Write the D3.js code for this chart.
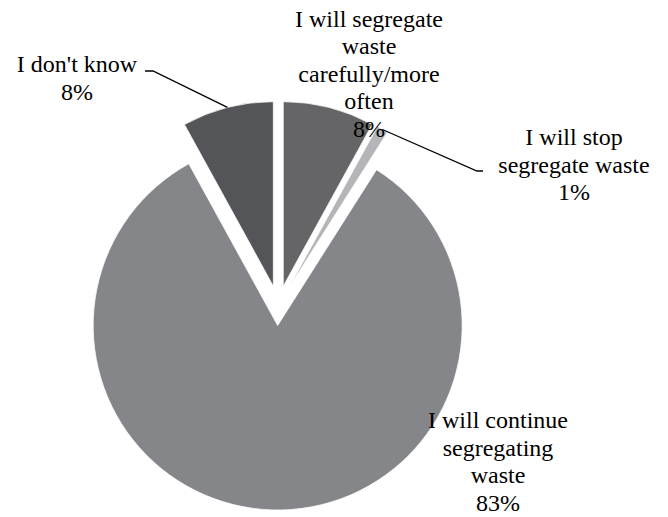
<!DOCTYPE html>
<html>
<head>
<meta charset="utf-8">
<script src="https://cdn.jsdelivr.net/npm/d3@7/dist/d3.min.js"></script>
<style>
  html, body { margin: 0; padding: 0; background: #fff; }
  svg { display: block; }
</style>
</head>
<body>
<div id="chart"></div>
<script>
// Survey answers, clockwise from 12 o'clock
const categories = [
  "I will segregate waste carefully/more often",
  "I will stop segregate waste",
  "I will continue segregating waste",
  "I don't know"
];
const values = [8, 1, 83, 8];
const labelLines = [
  ["I will segregate", "waste", "carefully/more", "often"],
  ["I will stop", "segregate waste"],
  ["I will continue", "segregating", "waste"],
  ["I don't know"]
];
const sliceColors = ["#656568", "#b4b5b8", "#85868a", "#545558"];

// Layout
const width = 668, height = 517;
const cx = 278.3, cy = 305.5, radius = 184.5, explode = 20;
const lineH = 27.6;
const fontFamily = "Liberation Serif";
// label anchor: centre x and first baseline y; leader: elbow points
const labelPos = [
  { x: 369, y: 26.5, leader: null },
  { x: 574, y: 145, leader: [[483, 171], [477, 171]] },
  { x: 498, y: 428, leader: null },
  { x: 77, y: 72, leader: [[145, 71], [153, 71]] }
];

const svg = d3.select("#chart").append("svg")
  .attr("width", width).attr("height", height);

const pie = d3.pie().sort(null).startAngle(0).endAngle(2 * Math.PI).value(d => d);
const arcs = pie(values);
const arc = d3.arc().innerRadius(0).outerRadius(radius);

const g = svg.append("g").attr("transform", `translate(${cx},${cy})`);

function offset(d) {
  const a = (d.startAngle + d.endAngle) / 2;
  return [Math.sin(a) * explode, -Math.cos(a) * explode];
}

g.selectAll("path.slice")
  .data(arcs)
  .join("path")
  .attr("class", "slice")
  .attr("d", arc)
  .attr("fill", (d, i) => sliceColors[i])
  .attr("stroke", "#fff")
  .attr("stroke-width", 0.75)
  .attr("transform", d => { const o = offset(d); return `translate(${o[0]},${o[1]})`; });

// Leader lines from the slice's outer edge to the label
const line = d3.line();
arcs.forEach((d, i) => {
  const lp = labelPos[i];
  if (!lp.leader) return;
  const a = (d.startAngle + d.endAngle) / 2;
  const o = offset(d);
  const edge = [cx + o[0] + Math.sin(a) * radius, cy + o[1] - Math.cos(a) * radius];
  const pts = [edge, lp.leader[1], lp.leader[0]];
  svg.append("path")
    .attr("d", line(pts))
    .attr("fill", "none")
    .attr("stroke", "#000")
    .attr("stroke-width", 1.3);
});

// Labels with percentages
const fmt = v => Math.round(v) + "%";
arcs.forEach((d, i) => {
  const lp = labelPos[i];
  const lines = labelLines[i].concat([fmt(values[i])]);
  const t = svg.append("text")
    .attr("text-anchor", "middle")
    .attr("font-family", fontFamily)
    .attr("font-size", 24)
    .attr("fill", "#000");
  lines.forEach((s, k) => {
    t.append("tspan").attr("x", lp.x).attr("y", lp.y + k * lineH).text(s);
  });
});
</script>
</body>
</html>
